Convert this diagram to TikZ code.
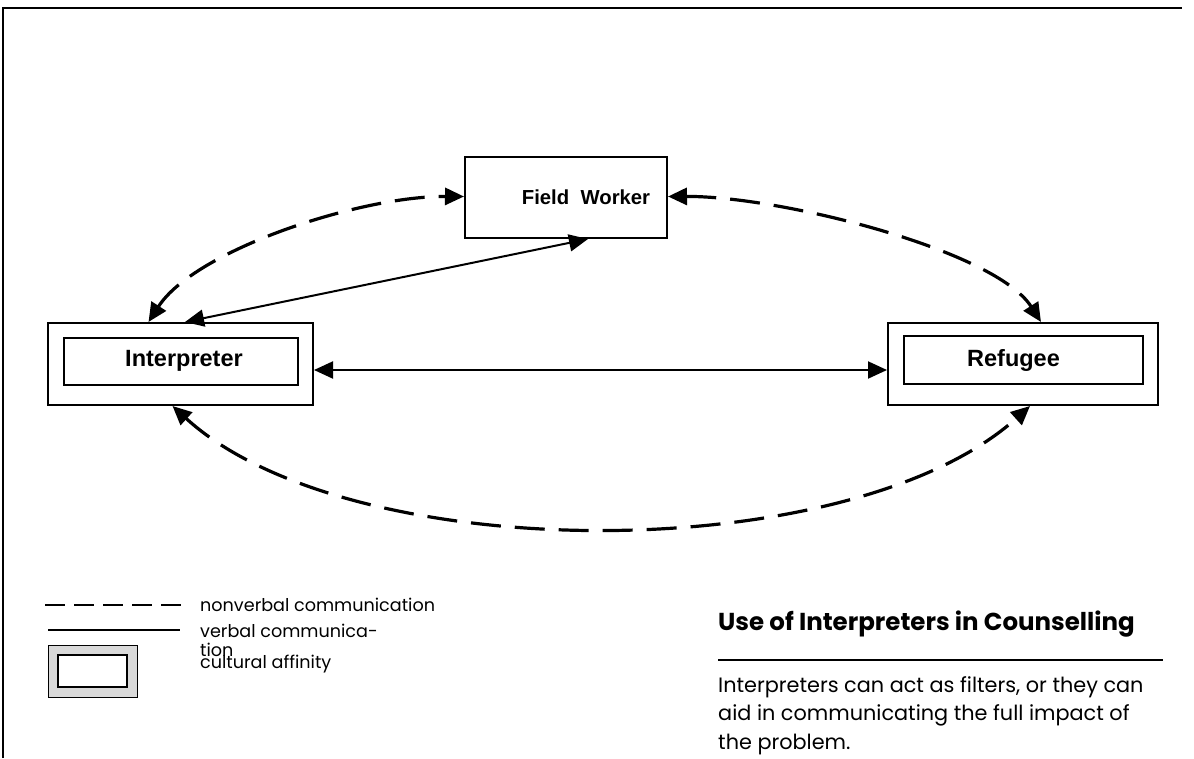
\documentclass[tikz,border=0pt]{standalone}
\usepackage{fontspec}
\setmainfont{Liberation Sans}
\newfontfamily\geo{Poppins}
\usetikzlibrary{arrows.meta,calc}

\tikzset{
  unit/.style={draw=black, line width=2pt, fill=white, inner sep=0pt},
  label/.style={font=\bfseries\fontsize{23.5}{28}\selectfont},
  bothtips/.style={{Triangle[length=19pt,width=17pt]}-{Triangle[length=19pt,width=17pt]}},
  verbal/.style={line width=2pt, bothtips},
  nonverbal/.style={line width=3.2pt, dash pattern=on 30pt off 14pt, bothtips},
  legtext/.style={anchor=base west, inner sep=0pt, font=\geo\fontsize{17.6}{20}\selectfont},
  paratext/.style={anchor=base west, inner sep=0pt, font=\geo\fontsize{20.8}{24}\selectfont},
}

\begin{document}
\begin{tikzpicture}[x=1pt, y=-1pt]
\useasboundingbox (0,0) rectangle (1194,758);

% page frame (top and left edges)
\draw[line width=2pt] (3,758) -- (3,8) -- (1182,8);

% the three parties
\node[unit, minimum width=202pt, minimum height=81pt, font=\bfseries\fontsize{20.3}{24}\selectfont] (fw) at (566,197.5) {\hspace*{40pt}Field\ \ Worker};

\node[unit, minimum width=265pt, minimum height=82pt] (io) at (180.5,364) {};
\node[unit, minimum width=234pt, minimum height=47pt, label] (ii) at (181,361) {\hspace*{6pt}Interpreter};

\node[unit, minimum width=270pt, minimum height=82pt] (ro) at (1023,364) {};
\node[unit, minimum width=239pt, minimum height=48pt, label] (ri) at (1023.5,360) {\hspace*{-20pt}Refugee};

% verbal communication
\draw[verbal] ([yshift=-6pt]io.east) -- ([yshift=-6pt]ro.west);
\draw[verbal] ([xshift=4.5pt]io.north) -- ([xshift=22pt]fw.south);

% nonverbal communication
\draw[nonverbal] ([xshift=-32pt]io.north) .. controls (195,250) and (360,196) .. ([yshift=1pt]fw.west);
\draw[nonverbal] ([yshift=1pt]fw.east) .. controls (780,196) and (995,250) .. ([xshift=18pt]ro.north);
\draw[nonverbal] ([xshift=-8pt]io.south) .. controls (350,568) and (850,568) .. ([xshift=7pt]ro.south);

% legend
\coordinate (d1) at (45,605);  \coordinate (d2) at (182,605);
\coordinate (s1) at (48,630);  \coordinate (s2) at (180,630);
\draw[line width=2.4pt, dash pattern=on 20pt off 9pt] (d1) -- (d2);
\draw[line width=1.6pt] (s1) -- (s2);
\node[draw=black, line width=1pt, fill=gray!30, minimum width=89pt, minimum height=52pt, inner sep=0pt] (lo) at (92.5,671) {};
\node[draw=black, line width=1.4pt, fill=white, minimum width=69pt, minimum height=32pt, inner sep=0pt] (li) at (92.5,671) {};

\node[legtext] (t1) at (200,611) {nonverbal communication};
\node[legtext] (t2) at (200,637) {verbal communica-};
\node[legtext] (t3) at (200,656) {tion};
\node[legtext] (t4) at (200,668) {cultural affinity};

% caption block
\node[anchor=base west, inner sep=0pt, font=\geo\bfseries\fontsize{24.5}{26}\selectfont] (head) at (718,630) {Use of Interpreters in Counselling};
\coordinate (r1) at (718,660); \coordinate (r2) at (1163,660);
\draw[line width=1.6pt] (r1) -- (r2);
\node[paratext] (p1) at (718,692) {Interpreters can act as filters, or they can};
\node[paratext] (p2) at (718,720) {aid in communicating the full impact of};
\node[paratext] (p3) at (718,749) {the problem.};
\end{tikzpicture}
\end{document}
